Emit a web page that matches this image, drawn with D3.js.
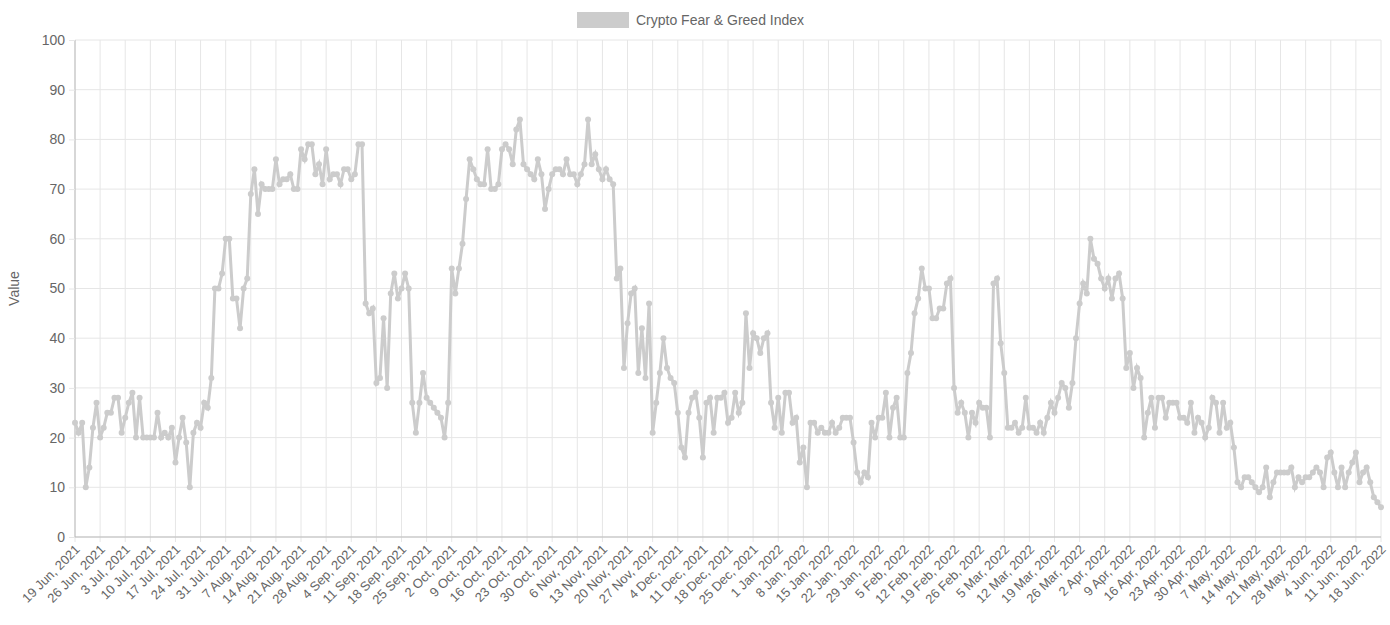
<!DOCTYPE html>
<html><head><meta charset="utf-8">
<script src="https://cdn.jsdelivr.net/npm/d3@7/dist/d3.min.js"></script>
<style>body{margin:0;background:#fff;font-family:"Helvetica Neue",Helvetica,Arial,"Liberation Sans",sans-serif}</style>
</head><body><svg id="c" width="1390" height="625"></svg>
<script>
const startDate = "2021-06-19";
const seriesName = "Crypto Fear & Greed Index";
const values = [
23,21,23,10,14,22,27, 20,22,25,25,28,28,21, 24,27,29,20,28,20,20, 20,20,25,20,21,20,22,
15,20,24,19,10,21,23, 22,27,26,32,50,50,53, 60,60,48,48,42,50,52, 69,74,65,71,70,70,70,
76,71,72,72,73,70,70, 78,76,79,79,73,75,71, 78,72,73,73,71,74,74, 72,73,79,79,47,45,46,
31,32,44,30,49,53,48, 50,53,50,27,21,27,33, 28,27,26,25,24,20,27, 54,49,54,59,68,76,74,
72,71,71,78,70,70,71, 78,79,78,75,82,84,75, 74,73,72,76,73,66,70, 73,74,74,73,76,73,73,
71,73,75,84,75,77,74, 72,74,72,71,52,54,34, 43,49,50,33,42,32,47, 21,27,33,40,34,32,31,
25,18,16,25,28,29,24, 16,27,28,21,28,28,29, 23,24,29,25,27,45,34, 41,40,37,40,41,27,22,
28,21,29,29,23,24,15, 18,10,23,23,21,22,21, 21,23,21,22,24,24,24, 19,13,11,13,12,23,20,
24,24,29,20,26,28,20, 20,33,37,45,48,54,50, 50,44,44,46,46,51,52, 30,25,27,25,20,25,23,
27,26,26,20,51,52,39, 33,22,22,23,21,22,28, 22,22,21,23,21,24,27, 25,28,31,30,26,31,40,
47,51,49,60,56,55,52, 50,52,48,52,53,48,34, 37,30,34,32,20,25,28, 22,28,28,24,27,27,27,
24,24,23,27,21,24,23, 20,22,28,27,21,27,22, 23,18,11,10,12,12,11, 10,9,10,14,8,11,13,
13,13,13,14,10,12,11, 12,12,13,14,13,10,16, 17,13,10,14,10,13,15, 17,11,13,14,11,8,7,
6];
const yTicks = [0,10,20,30,40,50,60,70,80,90,100];

const parse = d3.utcParse("%Y-%m-%d");
const t0 = parse(startDate);
const data = values.map((v,i)=>({date:d3.utcDay.offset(t0,i), v}));
const fmt = d3.utcFormat("%-d %b, %Y");
const tickDates = data.filter((d,i)=>i%7===0).map(d=>d.date);

const svg = d3.select("#c");
const L=75,R=1381,T=40,B=537;
const x = d3.scaleUtc().domain([data[0].date,data[data.length-1].date]).range([L,R]);
const y = d3.scaleLinear().domain([0,100]).range([B,T]);

svg.append("g").selectAll("line").data(yTicks).join("line")
 .attr("x1",L).attr("x2",R).attr("y1",d=>y(d)).attr("y2",d=>y(d)).attr("stroke","#e6e6e6");
svg.append("g").selectAll("line").data(tickDates).join("line")
 .attr("x1",d=>x(d)).attr("x2",d=>x(d)).attr("y1",T).attr("y2",B+5).attr("stroke","#e6e6e6");
svg.append("line").attr("x1",L).attr("x2",L).attr("y1",T).attr("y2",B).attr("stroke","#bbb");
svg.append("line").attr("x1",L).attr("x2",R).attr("y1",B).attr("y2",B).attr("stroke","#bbb");

const ya = svg.append("g").attr("transform",`translate(${L},0)`)
 .call(d3.axisLeft(y).tickValues(yTicks).tickSize(6).tickPadding(4));
ya.select(".domain").remove();
ya.selectAll("line").attr("stroke","#e6e6e6");
ya.selectAll("text").attr("fill","#666").style("font-size","14px");
svg.append("text").attr("transform",`translate(19,${(T+B)/2}) rotate(-90)`).attr("text-anchor","middle")
 .attr("fill","#666").style("font-size","14px").text("Value");

const xa = svg.append("g").attr("transform",`translate(0,${B})`)
 .call(d3.axisBottom(x).tickValues(tickDates).tickFormat(fmt).tickSize(0));
xa.select(".domain").remove();
xa.selectAll("text").attr("fill","#666").style("font-size","13px")
 .attr("text-anchor","end").attr("x",0).attr("y",0).attr("dy","0.35em")
 .attr("transform","translate(2,10) rotate(-45)");

svg.append("path").datum(data).attr("fill","none").attr("stroke","rgb(204,204,204)").attr("stroke-width",3)
 .attr("d",d3.line().x(d=>x(d.date)).y(d=>y(d.v)));
svg.append("g").selectAll("circle").data(data).join("circle")
 .attr("cx",d=>x(d.date)).attr("cy",d=>y(d.v)).attr("r",3).attr("fill","rgb(204,204,204)");

svg.append("rect").attr("x",577).attr("y",12).attr("width",52).attr("height",16).attr("fill","rgb(204,204,204)");
svg.append("text").attr("x",636).attr("y",25).attr("fill","#666").style("font-size","14px").text(seriesName);
</script></body></html>
